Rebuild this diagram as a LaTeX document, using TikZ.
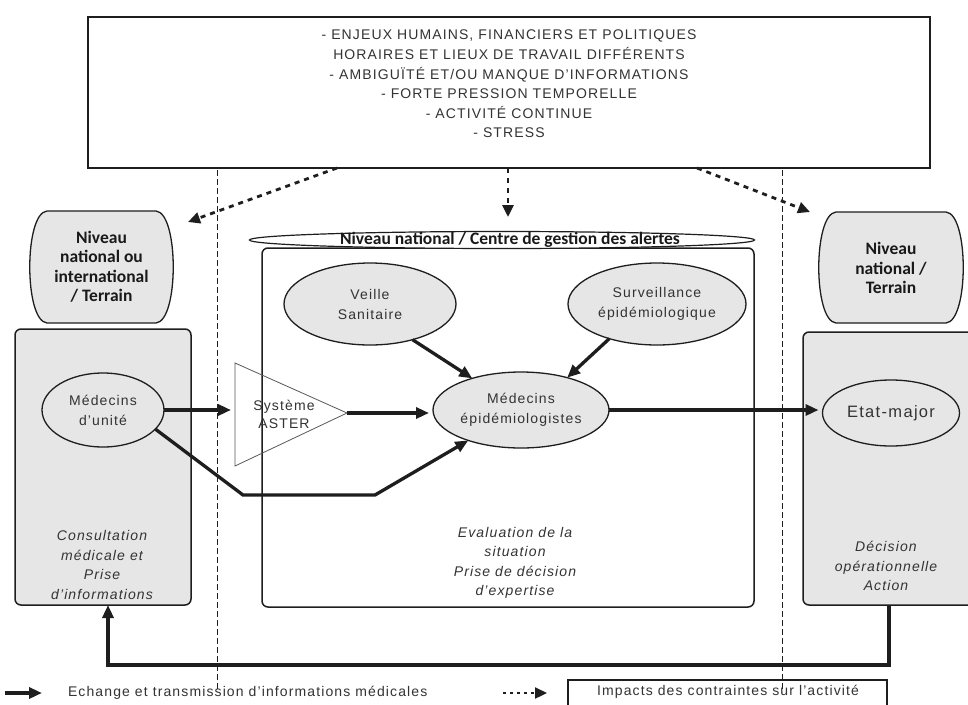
\documentclass[tikz,border=0pt]{standalone}
\usepackage{fontspec}
\setmainfont{Liberation Sans}[LetterSpace=8]
\newfontfamily\lblfont{Carlito}
\usetikzlibrary{shapes.geometric,arrows.meta}
\definecolor{boxgray}{HTML}{E6E6E6}
\definecolor{linegray}{HTML}{1E1E1E}
\definecolor{txtgray}{HTML}{333333}
\newcommand\nivshape[4]{%
  \path[draw=linegray, line width=1.3pt, fill=boxgray]
    ({#1+19},#2) -- ({#3-19},#2)
    .. controls ({#3+4},{#2+2}) and ({#3+4},{#4-2}) .. ({#3-19},#4)
    -- ({#1+19},#4)
    .. controls ({#1-4},{#4-2}) and ({#1-4},{#2+2}) .. cycle;}
\begin{document}
\begin{tikzpicture}[x=1pt,y=-1pt,
  every node/.style={inner sep=0pt, outer sep=0pt},
  body/.style={font=\fontsize{14}{19.6}\selectfont, text=txtgray, align=center},
  bodyit/.style={font=\fontsize{14}{19.5}\selectfont\itshape, text=txtgray, align=center},
  lbl/.style={font=\lblfont\bfseries\fontsize{17.5}{19.5}\selectfont, text=black!90, align=center},
  oval/.style={ellipse, draw=linegray, line width=1.3pt, fill=boxgray, text=txtgray, align=center, font=\fontsize{14}{20}\selectfont},
  panel/.style={draw=linegray, line width=1.5pt, rounded corners=6pt},
  arr/.style={draw=linegray, line width=3.3pt, -{Triangle[length=13pt,width=11pt]}},
  darr/.style={draw=linegray, line width=2.8pt, dash pattern=on 5pt off 5pt, -{Triangle[length=12pt,width=11pt]}},
  vsep/.style={draw=linegray, line width=0.9pt, dash pattern=on 6pt off 3pt},
]
\useasboundingbox[fill=white] (0,0) rectangle (968,704);
% separators
\coordinate (v1a) at (217,170); \coordinate (v1b) at (217,692);
\coordinate (v2a) at (782,170); \coordinate (v2b) at (782,692);
\draw[vsep] (v1a) -- (v1b);
\draw[vsep] (v2a) -- (v2b);
% top box
\node[draw=linegray, line width=1.8pt, minimum width=842, minimum height=151] (top) at (509,92.5) {};
\node[body] (toptxt) at (509,84) {- ENJEUX HUMAINS, FINANCIERS ET POLITIQUES\\ HORAIRES ET LIEUX DE TRAVAIL DIFFÉRENTS\\- AMBIGUÏTÉ ET/OU MANQUE D'INFORMATIONS\\- FORTE PRESSION TEMPORELLE\\- ACTIVITÉ CONTINUE\\- STRESS};
% level shapes
\nivshape{28}{211}{175}{323}
\node[lbl] (niv1) at (101.5,267) {Niveau\\national ou\\international\\/ Terrain};
\nivshape{817}{212}{965}{323}
\node[lbl] (niv3) at (891,268) {Niveau\\national /\\Terrain};
% panels
\node[panel, fill=boxgray, minimum width=176, minimum height=276] (lbox) at (103,467) {};
\node[panel, fill=boxgray, minimum width=177, minimum height=273] (rbox) at (891.5,468.5) {};
\node[panel, fill=white, minimum width=492, minimum height=359] (mbox) at (508,427.5) {};
\node[ellipse, draw=linegray, line width=1.2pt, fill=white, minimum width=505, minimum height=17] (cga) at (502,240) {};
\node[lbl] (cgatxt) at (510,239.5) {Niveau national / Centre de gestion des alertes};
% ovals
\node[oval, minimum width=122, minimum height=74] (mu) at (103,410) {Médecins\\d'unité};
\node[oval, minimum width=172, minimum height=82] (vs) at (370,304) {Veille\\Sanitaire};
\node[oval, minimum width=178, minimum height=82] (sv) at (657,304) {Surveillance\\épidémiologique};
\node[oval, minimum width=176, minimum height=76] (me) at (521,410) {Médecins\\épidémiologistes};
\node[oval, minimum width=137, minimum height=66, font=\fontsize{16.5}{20}\selectfont] (em) at (891,413) {Etat-major};
% triangle ASTER
\coordinate (triT) at (235,363); \coordinate (triR) at (347,413); \coordinate (triB) at (235,466);
\coordinate (triL) at (235,413);
\draw[draw=black!65, line width=0.8pt] (triT) -- (triR) -- (triB) -- cycle;
\node[body, font=\fontsize{14}{18}\selectfont] (aster) at (284,414) {Système\\ASTER};
% texts in panels
\node[bodyit] (lt) at (102,565) {Consultation\\médicale et\\Prise\\d'informations};
\node[bodyit] (mt) at (515,563) {Evaluation de la\\situation\\Prise de décision\\d'expertise};
\node[bodyit] (rt) at (886,566) {Décision\\opérationnelle\\Action};
% solid connectors
\draw[arr, shorten >=4pt] (mu.east) -- (mu.east -| triL);
\draw[arr, shorten >=4pt] (triR) -- (triR -| me.west);
\draw[arr] (vs.-40) -- (me.147);
\draw[arr] (sv.216) -- (me.35);
\draw[arr, shorten >=4pt] (me.east) -- (me.east -| em.west);
\coordinate (b1) at (243,495); \coordinate (b2) at (375,495);
\draw[arr] (mu.-20) -- (b1) -- (b2) -- (me.210);
\coordinate (fbR) at (889,665); \coordinate (fbL) at (108,665);
\draw[arr] (fbR |- rbox.south) -- (fbR) -- (fbL) -- (fbL |- lbox.south);
% dashed impacts
\coordinate (d1s) at (337,170); \coordinate (d1e) at (188,222);
\coordinate (d2s) at (508,170); \coordinate (d2e) at (508,217);
\coordinate (d3s) at (697,170); \coordinate (d3e) at (810,212);
\draw[darr] (top.south -| d1s) -- (d1e);
\draw[darr] (top.south -| d2s) -- (d2e);
\draw[darr] (top.south -| d3s) -- (d3e);
% legend
\coordinate (lg1) at (5,693); \coordinate (lg2) at (42,693);
\draw[arr] (lg1) -- (lg2);
\node[body, anchor=west] (lgt1) at (68,693) {Echange et transmission d'informations médicales};
\coordinate (lg3) at (503,693); \coordinate (lg4) at (547,693);
\draw[darr, line width=2.2pt, dash pattern=on 3pt off 4pt] (lg3) -- (lg4);
\node[draw=linegray, line width=1.3pt, minimum width=319, minimum height=32, anchor=north west] (lgbox) at (568,680) {};
\node[body] (lgt2) at (728,692) {Impacts des contraintes sur l'activité};
\end{tikzpicture}
\end{document}
